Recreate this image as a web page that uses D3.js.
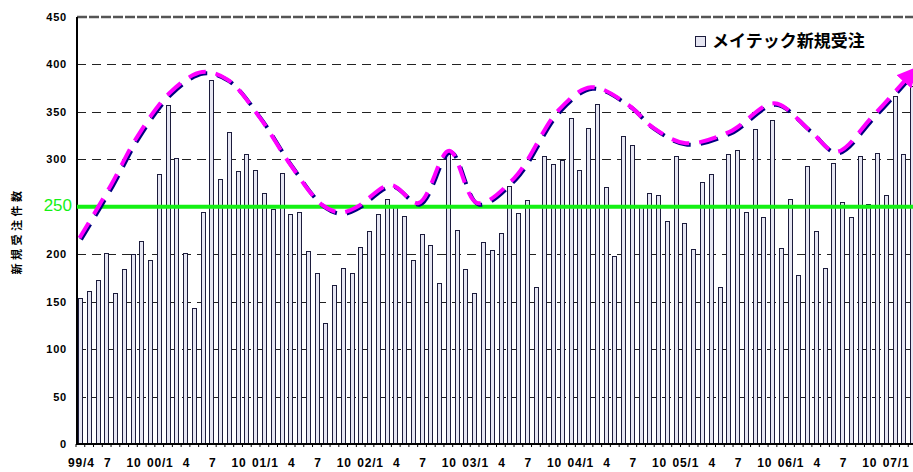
<!DOCTYPE html>
<html>
<head>
<meta charset="utf-8">
<script src="https://cdnjs.cloudflare.com/ajax/libs/d3/7.8.5/d3.min.js"></script>
<style>
    body { margin: 0; background: #fff; }
    text { font-family: "Liberation Sans", "Noto Sans CJK JP", Arial, sans-serif; }
</style>
</head>
<body>
<div id="chart"></div>
<script>
var width = 913,
    height = 472;

// monthly new orders, 99/4 .. 07/3
var orders = [
    154, 161, 173, 201, 159, 184, 200, 214, 194, 285, 357, 301, 201, 143, 245, 384,
    279, 329, 288, 306, 289, 264, 248, 286, 242, 245, 203, 180, 128, 168, 186, 180,
    208, 224, 242, 258, 251, 240, 194, 221, 210, 170, 306, 226, 184, 159, 213, 204,
    222, 272, 243, 257, 165, 304, 295, 299, 344, 289, 333, 358, 271, 198, 325, 315,
    251, 264, 262, 235, 304, 233, 206, 276, 285, 165, 306, 310, 244, 332, 239, 341,
    207, 258, 178, 293, 224, 186, 296, 255, 239, 304, 253, 307, 262, 367, 306, 377
];

// x labels, one every third month
var tickLabels = ["99/4", "7", "10", "00/1", "4", "7", "10", "01/1", "4", "7", "10",
    "02/1", "4", "7", "10", "03/1", "4", "7", "10", "04/1", "4", "7", "10",
    "05/1", "4", "7", "10", "06/1", "4", "7", "10", "07/1"];

var yTicks = [0, 50, 100, 150, 200, 300, 350, 400, 450]; // 250 is drawn in green
var gridValues = [50, 100, 150, 200, 300, 350, 400];
var targetLevel = 250;

// hand drawn trend curve (month index, value)
var trendIdx = [-0.1, 3.5, 6.5, 10.3, 13.9, 16.8, 20.4, 24.0, 27.6, 29.7, 31.6, 35.4, 38.6,
    42.1, 45.3, 49.5, 54.6, 58.3, 62.6, 65.3, 69.1, 74.1, 79.2, 83.2, 86.3, 90.4, 94.6];
var trendVal = [217, 273, 324, 371, 392, 384, 345, 294, 252, 244, 250, 273, 254,
    309, 254, 280, 352, 376, 357, 334, 317, 329, 359, 331, 308, 345, 388];

var legendLabel = "メイテック新規受注";
var yTitle = "新規受注件数";

var svg = d3.select("#chart").append("svg")
    .attr("width", width)
    .attr("height", height);

var xScale = d3.scaleBand()
    .domain(d3.range(orders.length))
    .range([76, 917])
    .paddingInner(0.46)
    .paddingOuter(0.23);

var yScale = d3.scaleLinear()
    .domain([0, 450])
    .range([444, 17]);

var step = xScale.step();
var xLin = d3.scaleLinear()
    .domain([0, orders.length - 1])
    .range([xScale(0) + xScale.bandwidth() / 2, xScale(orders.length - 1) + xScale.bandwidth() / 2]);

// gridlines
svg.append("g").selectAll("line")
    .data(gridValues)
    .enter().append("line")
    .attr("x1", 77)
    .attr("x2", width)
    .attr("y1", function (d) { return Math.round(yScale(d)) + 0.5; })
    .attr("y2", function (d) { return Math.round(yScale(d)) + 0.5; })
    .attr("stroke", "#222")
    .attr("stroke-dasharray", "9,6");

// top border
svg.append("line")
    .attr("x1", 77).attr("x2", width)
    .attr("y1", yScale(450)).attr("y2", yScale(450))
    .attr("stroke", "#555")
    .attr("stroke-width", 2.5)
    .attr("stroke-dasharray", "10,2");

// bars
svg.append("g").selectAll("rect")
    .data(orders)
    .enter().append("rect")
    .attr("x", function (d, i) { return Math.round(xScale(i)) + 0.5; })
    .attr("y", function (d) { return Math.round(yScale(d)) + 0.5; })
    .attr("width", Math.round(xScale.bandwidth()) - 1)
    .attr("height", function (d) { return yScale(0) - Math.round(yScale(d)) - 0.5; })
    .attr("fill", "#e6e6f2")
    .attr("stroke", "#1c1c3c")
    .attr("stroke-width", 1);

// axes lines
svg.append("line")
    .attr("x1", 77).attr("x2", 77)
    .attr("y1", yScale(450)).attr("y2", yScale(0) + 1)
    .attr("stroke", "#000").attr("stroke-width", 2);

svg.append("line")
    .attr("x1", 76).attr("x2", width)
    .attr("y1", yScale(0)).attr("y2", yScale(0))
    .attr("stroke", "#000").attr("stroke-width", 2);

svg.append("g").selectAll("line")
    .data(d3.range(orders.length + 1))
    .enter().append("line")
    .attr("x1", function (d) { return 76 + d * step; })
    .attr("x2", function (d) { return 76 + d * step; })
    .attr("y1", yScale(0))
    .attr("y2", yScale(0) + 3)
    .attr("stroke", "#000");

// y tick labels
svg.append("g")
    .attr("transform", "translate(67,0)")
    .call(d3.axisLeft(yScale).tickValues(yTicks).tickSize(0).tickPadding(0))
    .call(function (g) { g.select(".domain").remove(); })
    .selectAll("text")
    .attr("font-family", null)
    .style("font-size", "11px")
    .style("font-weight", "bold")
    .style("letter-spacing", "0.8px")
    .attr("fill", "#000");

// x tick labels
svg.append("g").selectAll("text")
    .data(tickLabels)
    .enter().append("text")
    .attr("x", function (d, i) { return xLin(i * 3) + 1; })
    .attr("y", 467)
    .attr("text-anchor", "middle")
    .style("font-size", "12px")
    .style("font-weight", "bold")
    .style("letter-spacing", "0.8px")
    .text(function (d) { return d; });

// y title
svg.append("text")
    .attr("transform", "translate(21,231) rotate(-90)")
    .attr("text-anchor", "middle")
    .style("font-size", "11px")
    .style("font-weight", "bold")
    .style("letter-spacing", "3.5px")
    .text(yTitle);

// 250 target line
svg.append("line")
    .attr("x1", 77).attr("x2", width)
    .attr("y1", yScale(targetLevel)).attr("y2", yScale(targetLevel))
    .attr("stroke", "#14f014")
    .attr("stroke-width", 4);

svg.append("text")
    .attr("x", 72)
    .attr("y", yScale(targetLevel) + 4)
    .attr("text-anchor", "end")
    .attr("fill", "#14f014")
    .style("font-size", "17px")
    .text(targetLevel);

// trend curve
var trendPts = trendIdx.map(function (d, i) { return [xLin(d), yScale(trendVal[i])]; });
var line = d3.line().curve(d3.curveCatmullRom.alpha(0.5));

svg.append("defs").append("marker")
    .attr("id", "arrow")
    .attr("viewBox", "0 0 10 10")
    .attr("refX", 4)
    .attr("refY", 5)
    .attr("markerWidth", 5)
    .attr("markerHeight", 5)
    .attr("markerUnits", "strokeWidth")
    .attr("orient", "auto")
    .append("path")
    .attr("d", "M0,0 L10,5 L0,10 z")
    .attr("fill", "#ff00ff");

svg.append("path")
    .attr("d", line(trendPts))
    .attr("transform", "translate(1.5,1.5)")
    .attr("fill", "none")
    .attr("stroke", "#000080")
    .attr("stroke-width", 4)
    .attr("stroke-dasharray", "18,10");

svg.append("path")
    .attr("d", line(trendPts))
    .attr("fill", "none")
    .attr("stroke", "#ff00ff")
    .attr("stroke-width", 4)
    .attr("stroke-dasharray", "18,10")
    .attr("marker-end", "url(#arrow)");

// legend
var legend = svg.append("g").attr("transform", "translate(695,36)");
legend.append("rect")
    .attr("x", 0.5).attr("y", 0.5)
    .attr("width", 10).attr("height", 10)
    .attr("fill", "#e6e6f2")
    .attr("stroke", "#1c1c3c");
legend.append("text")
    .attr("x", 17)
    .attr("y", 11)
    .style("font-size", "17px")
    .style("font-weight", "bold")
    .text(legendLabel);
</script>
</body>
</html>
